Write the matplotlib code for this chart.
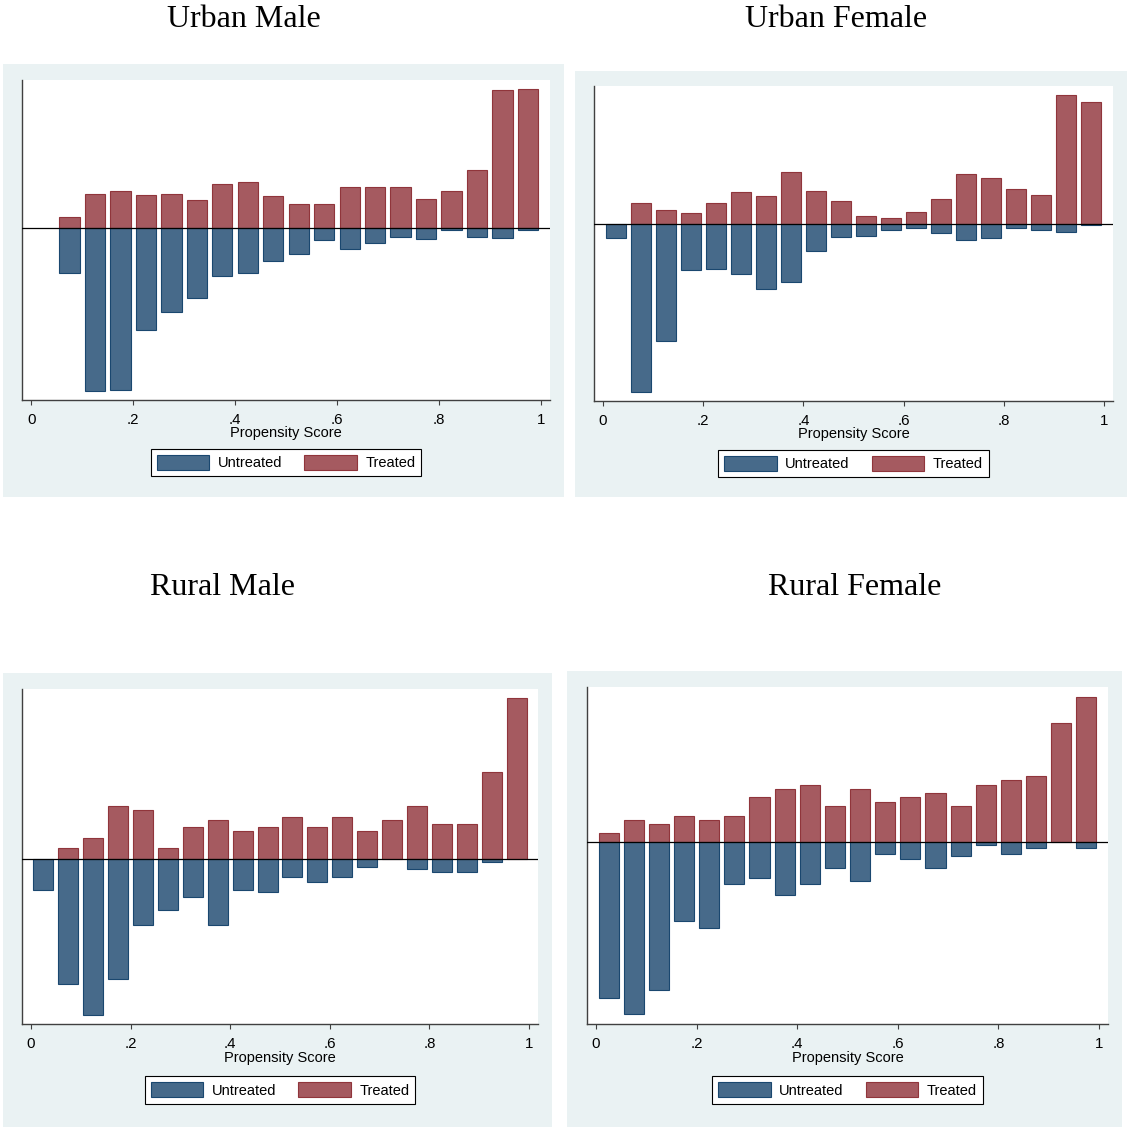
import numpy as np
import matplotlib
matplotlib.use('Agg')
import matplotlib.pyplot as plt
from matplotlib.patches import Rectangle, Patch

plt.rcParams['font.family'] = ['Liberation Sans', 'DejaVu Sans']

#************ data: share of obs per propensity-score bin (bin width .05) ************
bin_mid = [0.025, 0.075, 0.125, 0.175, 0.225, 0.275, 0.325, 0.375, 0.425, 0.475,
           0.525, 0.575, 0.625, 0.675, 0.725, 0.775, 0.825, 0.875, 0.925, 0.975]

titles = ['Urban Male', 'Urban Female', 'Rural Male', 'Rural Female']

treated_um   = [0, 33, 103, 110, 98, 103, 84, 131, 138, 95, 71, 71, 122, 122, 122, 88, 110, 174, 413, 417]
untreated_um = [0, 135, 488, 484, 306, 252, 209, 142, 135, 98, 78, 36, 61, 45, 27, 33, 6, 27, 30, 6]

treated_uf   = [0, 61, 41, 32, 61, 94, 84, 155, 98, 68, 23, 17, 36, 74, 149, 137, 103, 87, 386, 366]
untreated_uf = [44, 505, 352, 140, 137, 150, 196, 174, 83, 39, 38, 18, 14, 27, 50, 43, 14, 18, 24, 4]

treated_rm   = [0, 32, 63, 158, 148, 32, 95, 116, 85, 95, 127, 95, 127, 85, 116, 158, 105, 105, 262, 482]
untreated_rm = [91, 374, 466, 358, 198, 153, 113, 198, 91, 99, 53, 69, 53, 23, 0, 30, 39, 39, 7, 0]

treated_rf   = [26, 65, 52, 78, 65, 78, 133, 158, 170, 106, 158, 118, 133, 145, 106, 170, 185, 197, 356, 435]
untreated_rf = [470, 518, 446, 239, 258, 126, 108, 161, 126, 80, 117, 36, 53, 80, 44, 11, 36, 18, 0, 18]

treated_all = [treated_um, treated_uf, treated_rm, treated_rf]
untreated_all = [untreated_um, untreated_uf, untreated_rm, untreated_rf]

#************ layout (pixels on the 1127x1127 canvas) ************
W = 1127.
H = 1127.
# outer grey region, plot region, title (x, baseline), x-title baseline, legend centre y
boxes   = [(3, 64, 564, 497), (575, 71, 1127, 497), (3, 673, 552, 1127), (567, 671, 1122, 1127)]
plots   = [(22, 80, 550, 400), (594, 86, 1113, 401), (22, 689, 538, 1024), (587, 687, 1108, 1024)]
title_xy = [(244, 27), (836, 27), (223, 595), (855, 595)]
xlab_y  = [437, 438, 1062, 1062]
leg_y   = [462.5, 463.5, 1090, 1090]

BG = '#eaf2f3'
BLUE = '#476a8a'
BLUE_E = '#1a476f'
RED = '#a55a60'
RED_E = '#90353b'
AXC = '#404040'

fig = plt.figure(figsize=(W/100, H/100), dpi=100)
fig.patch.set_facecolor('white')

def fbox(l, t, r, b):
    return [l/W, 1-b/H, (r-l)/W, (b-t)/H]

for i in range(4):
    l, t, r, b = boxes[i]
    fig.add_artist(Rectangle((l/W, 1-b/H), (r-l)/W, (b-t)/H, transform=fig.transFigure,
                             facecolor=BG, edgecolor='none', zorder=0))

    ax = fig.add_axes(fbox(*plots[i]))
    ax.set_facecolor('white')
    tr = np.array(treated_all[i])
    un = np.array(untreated_all[i])
    x = np.array(bin_mid)
    ax.bar(x[tr > 0], tr[tr > 0], width=0.04, color=RED, edgecolor=RED_E, linewidth=0.8, zorder=2)
    ax.bar(x[un > 0], -un[un > 0], width=0.04, color=BLUE, edgecolor=BLUE_E, linewidth=0.8, zorder=2)
    ax.axhline(0, color='black', linewidth=0.9, zorder=3)

    lo = -un.max()
    hi = tr.max()
    pad = 0.03*(hi-lo)
    ax.set_ylim(lo-pad, hi+pad)
    ax.set_xlim(-0.018, 1.018)

    for s in ['top', 'right']:
        ax.spines[s].set_visible(False)
    for s in ['left', 'bottom']:
        ax.spines[s].set_color(AXC)
        ax.spines[s].set_linewidth(1.0)
    ax.set_yticks([])
    ax.set_xticks([0, 0.2, 0.4, 0.6, 0.8, 1])
    ax.set_xticklabels(['0', '.2', '.4', '.6', '.8', '1'])
    ax.tick_params(axis='x', length=3.6, width=0.8, color=AXC, pad=6, labelsize=10.8)

    pl, pt, pr, pb = plots[i]
    cx = (pl+pr)/2.
    fig.text(cx/W, 1-xlab_y[i]/H, 'Propensity Score', ha='center', va='baseline', fontsize=10.5)
    fig.text(title_xy[i][0]/W, 1-title_xy[i][1]/H, titles[i], ha='center', va='baseline',
             fontsize=23, family=['Liberation Serif', 'DejaVu Serif'])

    handles = [Patch(facecolor=BLUE, edgecolor=BLUE_E, linewidth=0.8),
               Patch(facecolor=RED, edgecolor=RED_E, linewidth=0.8)]
    leg = ax.legend(handles, ['Untreated', 'Treated'], ncol=2, loc='center',
                    bbox_to_anchor=(cx/W, 1-leg_y[i]/H), bbox_transform=fig.transFigure,
                    frameon=True, fancybox=False, edgecolor='black', framealpha=1,
                    handlelength=3.6, handleheight=1.2, handletextpad=0.6,
                    columnspacing=1.5, borderpad=0.4, fontsize=10.5)
    leg.get_frame().set_linewidth(0.8)

fig.savefig('out.png', dpi=100)
